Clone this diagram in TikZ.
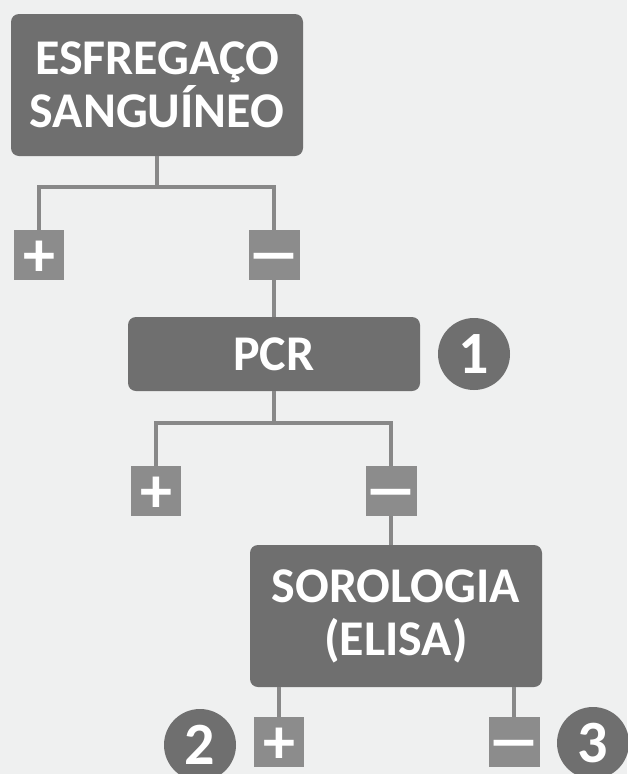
\documentclass[tikz,border=0pt]{standalone}
\usepackage{fontspec}
\setmainfont{Carlito}
\definecolor{bgcol}{HTML}{EFF0F0}
\definecolor{boxcol}{HTML}{6F6F6F}
\definecolor{sqcol}{HTML}{8C8C8C}
\definecolor{linecol}{HTML}{888888}
\newcommand{\negsign}{\scalebox{1.6}[1]{−}}
\begin{document}
\begin{tikzpicture}[x=1pt,y=-1pt,
  testbox/.style={fill=boxcol,rounded corners=8pt,text=white,align=center,inner sep=0pt,
    minimum width=292pt,font=\fontsize{50}{53}\selectfont\bfseries},
  signbox/.style={fill=sqcol,minimum size=50pt,inner sep=0pt,text=white,
    text height=42pt,text depth=0pt,font=\fontsize{64}{64}\selectfont\bfseries},
  numcirc/.style={circle,fill=boxcol,minimum size=72pt,inner sep=0pt,text=white,
    font=\fontsize{60}{60}\selectfont\bfseries},
  conn/.style={draw=linecol,line width=4pt}]
\useasboundingbox (0,0) rectangle (627,774);
\fill[bgcol] (0,0) rectangle (627,774); % background

\node[testbox,minimum height=142pt] (esf) at (157,85) {ESFREGAÇO\\SANGUÍNEO};
\node[signbox] (p1) at (39,255) {+};
\node[signbox] (m1) at (274,255) {\negsign};

\node[testbox,minimum height=74pt] (pcr) at (274,354) {PCR};
\node[numcirc] (c1) at (474,354) {1};
\node[signbox] (p2) at (156,491) {+};
\node[signbox] (m2) at (391,491) {\negsign};

\node[testbox,minimum height=142pt] (sor) at (396,616) {SOROLOGIA\\(ELISA)};
\node[signbox] (p3) at (279,742) {+};
\node[signbox] (m3) at (514,742) {\negsign};
\node[numcirc] (c2) at (200,745) {2};
\node[numcirc] (c3) at (593,743) {3};

\draw[conn] (esf.south) -- ++(0,31) coordinate (j1) -| (p1.north); % first split
\draw[conn] (j1) -| (m1.north);
\draw[conn] (m1.south) -- (pcr.north);

\draw[conn] (pcr.south) -- ++(0,32) coordinate (j2) -| (p2.north); % second split
\draw[conn] (j2) -| (m2.north);
\draw[conn] (m2.south) -- (m2.south |- sor.north);

\draw[conn] (sor.south -| p3.north) -- (p3.north); % last split
\draw[conn] (sor.south -| m3.north) -- (m3.north);
\end{tikzpicture}
\end{document}
